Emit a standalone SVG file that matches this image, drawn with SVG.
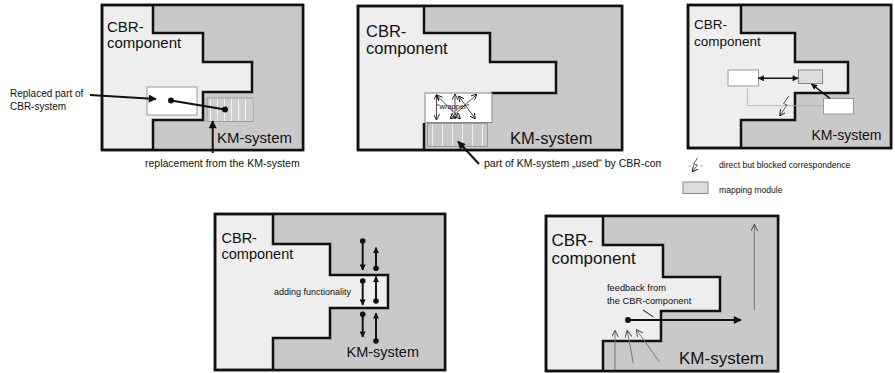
<svg xmlns="http://www.w3.org/2000/svg" width="895" height="373" viewBox="0 0 895 373">
<style>
text{font-family:"Liberation Sans",Arial,sans-serif;fill:#111}
.frame{fill:#eeeeee;stroke:#111;stroke-width:2.5}
.km{fill:#c9c9c9;stroke:none}
.bd{fill:none;stroke:#111;stroke-width:2.5;stroke-linejoin:miter}
.big{font-size:15px}
.sm{font-size:10px}
.th{stroke:#111;stroke-width:2;fill:none}
.thin{stroke:#777;stroke-width:1;fill:none}
.dot{fill:#111}
.wbox{fill:#fff;stroke:#999;stroke-width:1}
</style>
<defs>
<marker id="ah" viewBox="0 0 10 10" refX="9" refY="5" markerWidth="9" markerHeight="8" markerUnits="userSpaceOnUse" orient="auto-start-reverse"><path d="M0,0 L10,5 L0,10 z" fill="#111"/></marker>
<marker id="ahs" viewBox="0 0 10 10" refX="9" refY="5" markerWidth="7" markerHeight="6" markerUnits="userSpaceOnUse" orient="auto-start-reverse"><path d="M0,0 L10,5 L0,10 z" fill="#111"/></marker>
<marker id="oa" viewBox="0 0 10 10" refX="9" refY="5" markerWidth="7" markerHeight="7" markerUnits="userSpaceOnUse" orient="auto-start-reverse"><path d="M0,0 L10,5 L0,10" fill="none" stroke="#555" stroke-width="1.5"/></marker>
<marker id="oak" viewBox="0 0 10 10" refX="9" refY="5" markerWidth="6" markerHeight="6" markerUnits="userSpaceOnUse" orient="auto-start-reverse"><path d="M0,0 L10,5 L0,10" fill="none" stroke="#111" stroke-width="1.5"/></marker>
<pattern id="str7" patternUnits="userSpaceOnUse" width="7" height="10"><rect width="7" height="10" fill="#cfcfcf"/><rect x="0" width="1" height="10" fill="#f4f4f4"/></pattern>
<pattern id="str10" patternUnits="userSpaceOnUse" width="10" height="10" x="2"><rect width="10" height="10" fill="#c8c8c8"/><rect x="0" width="1" height="10" fill="#f0f0f0"/></pattern>
<clipPath id="cut"><rect x="470" y="150" width="191" height="25"/></clipPath>
</defs>

<g id="panel1">
<rect class="frame" x="102" y="5" width="201" height="145"/>
<path class="km" d="M153,6 H302 V149 H153 V120 H203 V92 H252 V62 H203 V33 H153 Z"/>
<path class="bd" d="M153,5 V33 H203 V62 H252 V92 H203 V120 H153 V150"/>
<rect x="102" y="5" width="201" height="145" fill="none" stroke="#111" stroke-width="2.5"/>
<rect class="wbox" x="147" y="87" width="50" height="28"/>
<rect x="207" y="98" width="46" height="23.5" fill="url(#str7)" stroke="#999" stroke-width="1"/>
<text class="big" x="107" y="32">CBR-</text>
<text class="big" x="107" y="47.5">component</text>
<text class="big" x="217" y="143">KM-system</text>
<text class="sm" x="10" y="97">Replaced part of</text>
<text class="sm" x="10" y="110">CBR-system</text>
<text x="145" y="167" font-size="10.5">replacement from the KM-system</text>
</g>

<g id="panel2">
<rect class="frame" x="358" y="6" width="264" height="144"/>
<path class="km" d="M424,7 H621 V149 H424 V123 H492 V93 H556 V62 H490 V33 H424 Z"/>
<rect x="358" y="6" width="264" height="144" fill="none" stroke="#111" stroke-width="2.5"/>
<path class="bd" d="M424,6 V33 H490 V62 H556 V93 H491"/>
<path class="bd" d="M424,123 V150"/>
<rect x="425" y="93" width="67" height="29.5" fill="#fff" stroke="#888" stroke-width="1"/>
<rect x="427.5" y="123.5" width="60" height="23" fill="url(#str10)" stroke="#999" stroke-width="1"/>
<text x="366" y="37" font-size="16.5">CBR-</text>
<text x="366" y="53.5" font-size="16.5">component</text>
<text x="510" y="143.5" font-size="16.5">KM-system</text>
<text x="437" y="109" font-size="7.5">“wrapper”</text>
<g clip-path="url(#cut)"><text x="484" y="167" font-size="10.5">part of KM-system „used“ by CBR-component</text></g>
</g>

<g id="panel3">
<rect class="frame" x="688" y="5" width="203" height="143"/>
<path class="km" d="M741,6 H890 V147 H741 V120 H795 V93 H848 V62 H795 V33 H741 Z"/>
<path class="bd" d="M741,5 V33 H795 V62 H848 V93 H795 V120 H741 V148"/>
<rect x="688" y="5" width="203" height="143" fill="none" stroke="#111" stroke-width="2.5"/>
<rect class="wbox" x="728" y="70" width="30.5" height="16"/>
<rect x="798.5" y="70" width="24" height="13.5" fill="#dcdcdc" stroke="#888" stroke-width="1"/>
<rect class="wbox" x="823.5" y="98.5" width="30" height="15.5"/>
<text x="694" y="29" font-size="13.5">CBR-</text>
<text x="694" y="46" font-size="13.5">component</text>
<text x="811.5" y="140" font-size="14">KM-system</text>
</g>

<g id="legend">
<path d="M688,166 H691 M700,166 H703" stroke="#aaa" stroke-width="0.8"/>
<polyline points="697.5,158 693.5,164 697.5,165 692.5,171.5" fill="none" stroke="#333" stroke-width="0.8" marker-end="url(#oak)"/>
<text x="719" y="168" font-size="8.6">direct but blocked correspondence</text>
<rect x="683" y="182" width="25" height="11.5" fill="#dcdcdc" stroke="#888" stroke-width="1"/>
<text x="719" y="193" font-size="8.6">mapping module</text>
</g>

<g id="panel4">
<rect class="frame" x="215" y="214" width="230" height="156"/>
<path class="km" d="M273,215 H444 V369 H273 V338 H330 V308 H388 V275 H330 V244 H273 Z"/>
<path class="bd" d="M273,214 V244 H330 V275 H388 V308 H330 V338 H273 V370"/>
<rect x="215" y="214" width="230" height="156" fill="none" stroke="#111" stroke-width="2.5"/>
<text x="221.5" y="242.5" font-size="14.5">CBR-</text>
<text x="221.5" y="259" font-size="14.5">component</text>
<text x="346.5" y="357" font-size="14.5">KM-system</text>
<text x="274" y="295" font-size="9">adding functionality</text>
</g>

<g id="panel5">
<rect class="frame" x="546" y="216" width="232" height="155"/>
<path class="km" d="M603,217 H777 V370 H603 V341 H661 V311 H720 V277 H663 V245 H603 Z"/>
<path class="bd" d="M603,216 V245 H663 V277 H720 V311 H661 V341 H603 V371"/>
<rect x="546" y="216" width="232" height="155" fill="none" stroke="#111" stroke-width="2.5"/>
<text x="551.5" y="246" font-size="17">CBR-</text>
<text x="551.5" y="264" font-size="17">component</text>
<text x="679" y="364" font-size="17">KM-system</text>
<text x="607" y="290.5" font-size="9.3">feedback from</text>
<text x="607" y="303.5" font-size="9.3">the CBR-component</text>
</g>

<g id="connectors">
<line class="th" x1="90" y1="95" x2="156" y2="99" marker-end="url(#ah)"/>
<line class="th" x1="171" y1="100.5" x2="225" y2="109.5"/>
<circle class="dot" cx="171" cy="100.5" r="3"/>
<circle class="dot" cx="225" cy="109.5" r="3"/>
<line class="th" x1="212.7" y1="153" x2="212.7" y2="121" marker-end="url(#ah)"/>

<line class="th" x1="479" y1="164" x2="458" y2="141.5" stroke-width="2.5" marker-end="url(#ah)"/>
<g stroke="#222" stroke-width="0.8" fill="none">
<line x1="436.5" y1="95" x2="436.5" y2="119.5" marker-start="url(#oak)" marker-end="url(#oak)"/>
<line x1="455" y1="94.5" x2="455" y2="118.5" marker-start="url(#oak)" marker-end="url(#oak)"/>
<line x1="437" y1="95.5" x2="460" y2="118.5" marker-start="url(#oak)" marker-end="url(#oak)"/>
<line x1="476.5" y1="94.5" x2="450.5" y2="118.5" marker-start="url(#oak)" marker-end="url(#oak)"/>
<line x1="459" y1="96.5" x2="475" y2="118.5" marker-start="url(#oak)" marker-end="url(#oak)"/>
</g>

<line x1="758.5" y1="78.3" x2="798" y2="78.3" stroke="#111" stroke-width="1.5" marker-start="url(#ahs)" marker-end="url(#ahs)"/>
<line x1="830" y1="98.3" x2="811.5" y2="84" stroke="#111" stroke-width="1.5" marker-end="url(#ahs)"/>
<polyline points="747.3,88.5 747.3,105.7 823.3,105.7" fill="none" stroke="#aaa" stroke-width="0.8"/>
<polyline points="789,96 783.5,103.5 787,105 780,115.5" fill="none" stroke="#333" stroke-width="0.8" marker-end="url(#oak)"/>

<line class="th" x1="362.7" y1="241" x2="362.7" y2="270" marker-end="url(#ahs)"/>
<circle class="dot" cx="362.7" cy="241" r="2.8"/>
<line class="th" x1="376" y1="268.3" x2="376" y2="247.5" marker-end="url(#ahs)"/>
<circle class="dot" cx="376" cy="268.3" r="2.8"/>
<line class="th" x1="362.7" y1="281" x2="362.7" y2="305" marker-end="url(#ahs)"/>
<circle class="dot" cx="362.7" cy="281" r="2.8"/>
<line class="th" x1="376" y1="301" x2="376" y2="276.5" marker-end="url(#ahs)"/>
<circle class="dot" cx="376" cy="301" r="2.8"/>
<line class="th" x1="362.7" y1="314.3" x2="362.7" y2="337" marker-end="url(#ahs)"/>
<circle class="dot" cx="362.7" cy="314.3" r="2.8"/>
<line class="th" x1="376" y1="341" x2="376" y2="313" marker-end="url(#ahs)"/>
<circle class="dot" cx="376" cy="341" r="2.8"/>

<line class="th" x1="628" y1="320" x2="741" y2="320" marker-end="url(#ah)"/>
<circle class="dot" cx="628" cy="320" r="3"/>
<line x1="643" y1="310" x2="653.5" y2="317" stroke="#111" stroke-width="1"/>
<line class="thin" x1="754.3" y1="310" x2="754.3" y2="225" marker-end="url(#oa)"/>
<line class="thin" x1="615" y1="370" x2="615" y2="331" marker-end="url(#oa)"/>
<line class="thin" x1="633.3" y1="363.3" x2="627.3" y2="331" marker-end="url(#oa)"/>
<line class="thin" x1="659.3" y1="361.7" x2="636.7" y2="330" marker-end="url(#oa)"/>
</g>
</svg>
